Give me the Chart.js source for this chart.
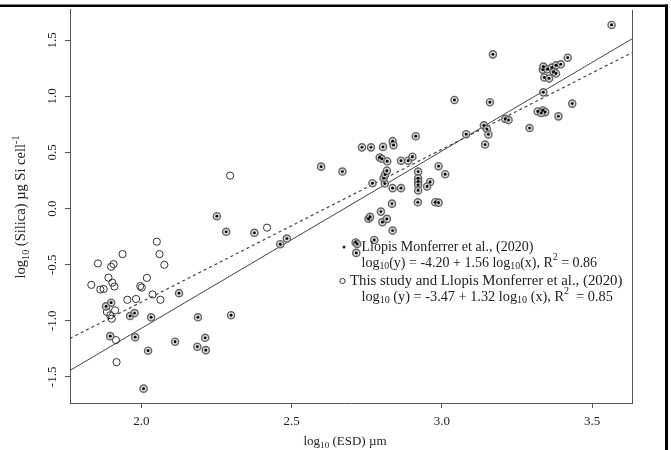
<!DOCTYPE html>
<html>
<head>
<meta charset="utf-8">
<script src="https://cdn.jsdelivr.net/npm/chart.js@4.4.1/dist/chart.umd.min.js"></script>
<style>
  html, body { margin: 0; padding: 0; background: #fff; }
</style>
</head>
<body>
<canvas id="silicaChart" width="671" height="450"></canvas>
<script>
// Llopis Monferrer et al. (2020) points: log10(ESD) / log10(silica)
const llopisX = [
    1.882, 1.899, 1.962, 1.977, 2.032, 2.125, 1.896, 1.979, 2.022, 2.007,
    2.112, 2.188, 2.298, 2.186, 2.212, 2.214, 2.282, 2.376, 2.462, 2.484,
    2.251, 2.598, 2.669,
    2.713, 2.718, 2.715, 2.775, 2.836, 2.756, 2.761, 2.797, 2.802, 2.817,
    2.834, 2.920, 2.978, 2.989, 2.769, 2.810, 2.836, 2.864, 2.806, 2.811,
    2.817, 2.921, 2.921, 2.921, 2.921, 2.921, 2.961, 2.951, 3.011, 2.989,
    2.793, 2.800, 2.818, 2.864, 2.888, 2.902, 2.734, 2.764, 2.804, 2.836,
    2.839, 2.913, 3.042, 3.081, 3.140, 3.150, 3.155, 3.144, 3.160, 3.170,
    3.211, 3.222, 3.292, 3.319, 3.336, 3.344, 3.331, 3.388, 3.434, 3.338,
    3.341, 3.357, 3.336, 3.338, 3.352, 3.366, 3.372, 3.380, 3.380, 3.396,
    3.419, 3.565
];
const llopisY = [
    -0.872, -0.839, -0.958, -0.931, -0.969, -0.754, -1.137, -1.146, -1.267, -1.605,
    -1.187, -0.969, -0.951, -1.231, -1.152, -1.262, -0.207, -0.216, -0.318, -0.267,
    -0.068, 0.374, 0.330,
    -0.302, -0.315, -0.395, -0.280, -0.196, -0.090, -0.074, -0.027, -0.121, -0.092,
    0.044, 0.056, 0.057, 0.053, 0.226, 0.223, 0.182, 0.182, 0.270, 0.303,
    0.338, 0.330, 0.270, 0.241, 0.212, 0.162, 0.237, 0.197, 0.306, 0.378,
    0.456, 0.444, 0.422, 0.427, 0.427, 0.462, 0.546, 0.546, 0.550, 0.601,
    0.565, 0.645, 0.968, 0.663, 0.742, 0.709, 0.661, 0.571, 0.948, 1.375,
    0.800, 0.789, 0.718, 0.866, 0.875, 0.860, 0.853, 0.822, 0.936, 1.036,
    1.169, 1.160, 1.239, 1.266, 1.242, 1.257, 1.219, 1.204, 1.277, 1.286,
    1.345, 1.637
];

// This study only (open circles)
const studyX = [
    2.051, 1.937, 2.060, 1.855, 1.907, 1.899, 2.076, 1.890, 2.018, 1.833,
    1.863, 1.874, 1.903, 1.910, 1.996, 2.001, 1.953, 1.982, 2.037, 2.063,
    1.885, 1.912, 1.896, 1.901, 1.915, 1.917, 2.295, 2.418
];
const studyY = [
    -0.295, -0.406, -0.406, -0.489, -0.495, -0.519, -0.501, -0.616, -0.618, -0.680,
    -0.722, -0.717, -0.660, -0.695, -0.691, -0.704, -0.813, -0.806, -0.766, -0.813,
    -0.922, -0.907, -0.951, -0.982, -1.172, -1.369, 0.294, -0.170
];

// regression lines, end points
const fitX = [1.762, 3.633];
const fitLlopisY = [-1.443, 1.513];
const fitAllY = [-1.157, 1.390];

const xTicks = [2.0, 2.5, 3.0, 3.5];
const yTicks = [-1.5, -1.0, -0.5, 0.0, 0.5, 1.0, 1.5];

const toPts = (xs, ys) => xs.map((x, i) => ({ x: x, y: ys[i] }));

const FONT = 'Liberation Serif';

// draw text with sub/superscripts, parts = [[text, 'n'|'sub'|'sup'], ...]
function richWidth(ctx, parts, size) {
    let w = 0;
    parts.forEach(([t, k]) => {
        ctx.font = (k === 'n' ? size : size * 0.7) + 'px "' + FONT + '"';
        w += ctx.measureText(t).width;
    });
    return w;
}
function drawRich(ctx, parts, x, y, size) {
    let cx = x;
    parts.forEach(([t, k]) => {
        const fs = k === 'n' ? size : size * 0.7;
        ctx.font = fs + 'px "' + FONT + '"';
        const dy = k === 'sub' ? size * 0.25 : (k === 'sup' ? -size * 0.4 : 0);
        ctx.fillText(t, cx, y + dy);
        cx += ctx.measureText(t).width;
    });
}

const decorations = {
    id: 'decorations',
    afterDraw(chart) {
        const ctx = chart.ctx;
        const area = chart.chartArea;
        ctx.save();

        // right side of plot frame
        ctx.strokeStyle = '#555';
        ctx.lineWidth = 1;
        ctx.beginPath();
        ctx.moveTo(area.right + 0.5, area.top);
        ctx.lineTo(area.right + 0.5, area.bottom);
        ctx.stroke();

        // outer table border (top and right)
        ctx.fillStyle = '#000';
        ctx.fillRect(0, 4.5, 668, 2.5);
        ctx.fillRect(665, 4.5, 3, 446);

        ctx.fillStyle = '#222';
        ctx.textBaseline = 'alphabetic';

        // x title
        const xt = [['log', 'n'], ['10', 'sub'], [' (ESD) µm', 'n']];
        const xw = richWidth(ctx, xt, 13);
        drawRich(ctx, xt, 345 - xw / 2, 445, 13);

        // y title
        const yt = [['log', 'n'], ['10', 'sub'], [' (Silica) µg Si cell', 'n'], ['-1', 'sup']];
        const yw = richWidth(ctx, yt, 14.5);
        ctx.save();
        ctx.translate(25, 207);
        ctx.rotate(-Math.PI / 2);
        drawRich(ctx, yt, -yw / 2, 0, 14.5);
        ctx.restore();

        // legend
        ctx.textBaseline = 'middle';
        ctx.beginPath();
        ctx.arc(344, 247, 1.5, 0, Math.PI * 2);
        ctx.fill();
        drawRich(ctx, [['Llopis Monferrer et al., (2020)', 'n']], 361.5, 247, 14);
        drawRich(ctx, [['log', 'n'], ['10', 'sub'], ['(y) = -4.20 + 1.56 log', 'n'], ['10', 'sub'],
            ['(x), R', 'n'], ['2', 'sup'], [' = 0.86', 'n']], 361.5, 263, 14);

        ctx.strokeStyle = '#333';
        ctx.beginPath();
        ctx.arc(342.5, 281, 2.6, 0, Math.PI * 2);
        ctx.stroke();
        drawRich(ctx, [['This study and Llopis Monferrer et al., (2020)', 'n']], 350, 281, 14.8);
        drawRich(ctx, [['log', 'n'], ['10', 'sub'], [' (y) = -3.47 + 1.32 log', 'n'], ['10', 'sub'],
            [' (x), R', 'n'], ['2', 'sup'], ['  = 0.85', 'n']], 361.5, 297, 14.3);

        ctx.restore();
    }
};

const ctx = document.getElementById('silicaChart').getContext('2d');
new Chart(ctx, {
    type: 'scatter',
    data: {
        datasets: [
            {
                label: 'centres',
                data: toPts(llopisX, llopisY),
                pointRadius: 1.4,
                pointBackgroundColor: '#000',
                pointBorderWidth: 0,
                order: 0
            },
            {
                label: 'Llopis Monferrer et al., (2020)',
                data: toPts(llopisX, llopisY),
                pointRadius: 3.6,
                pointBackgroundColor: 'rgba(200, 200, 200, 0.7)',
                pointBorderColor: '#666',
                pointBorderWidth: 1.4,
                order: 1
            },
            {
                label: 'This study',
                data: toPts(studyX, studyY),
                pointRadius: 3.6,
                pointBackgroundColor: 'rgba(255, 255, 255, 0)',
                pointBorderColor: '#333',
                pointBorderWidth: 1,
                order: 2
            },
            {
                type: 'line',
                label: 'fit Llopis',
                data: toPts(fitX, fitLlopisY),
                borderColor: '#444',
                borderWidth: 1,
                pointRadius: 0,
                order: 3
            },
            {
                type: 'line',
                label: 'fit all',
                data: toPts(fitX, fitAllY),
                borderColor: '#444',
                borderWidth: 1.2,
                borderDash: [3, 3],
                pointRadius: 0,
                order: 4
            }
        ]
    },
    options: {
        responsive: false,
        animation: false,
        layout: {
            padding: { left: 0, top: 7, right: 39, bottom: 0 }
        },
        plugins: {
            legend: { display: false },
            tooltip: { enabled: false }
        },
        scales: {
            x: {
                type: 'linear',
                min: 1.762,
                max: 3.633,
                afterBuildTicks: (axis) => { axis.ticks = xTicks.map(v => ({ value: v })); },
                afterFit: (axis) => { axis.height = 47; },
                grid: { display: true, drawOnChartArea: false, drawTicks: true, tickLength: 5, color: '#555' },
                border: { display: true, color: '#555', width: 1 },
                ticks: {
                    autoSkip: false,
                    maxRotation: 0,
                    padding: 6,
                    color: '#222',
                    font: { family: FONT, size: 13 },
                    callback: (v) => Number(v).toFixed(1)
                }
            },
            y: {
                type: 'linear',
                min: -1.733,
                max: 1.772,
                afterBuildTicks: (axis) => { axis.ticks = yTicks.map(v => ({ value: v })); },
                afterFit: (axis) => { axis.width = 70; },
                grid: { display: true, drawOnChartArea: false, drawTicks: true, tickLength: 5, color: '#555' },
                border: { display: true, color: '#555', width: 1 },
                ticks: {
                    autoSkip: false,
                    minRotation: 90,
                    maxRotation: 90,
                    crossAlign: 'center',
                    padding: 2,
                    color: '#222',
                    font: { family: FONT, size: 13 },
                    callback: (v) => Number(v).toFixed(1)
                }
            }
        }
    },
    plugins: [decorations]
});
</script>
</body>
</html>
